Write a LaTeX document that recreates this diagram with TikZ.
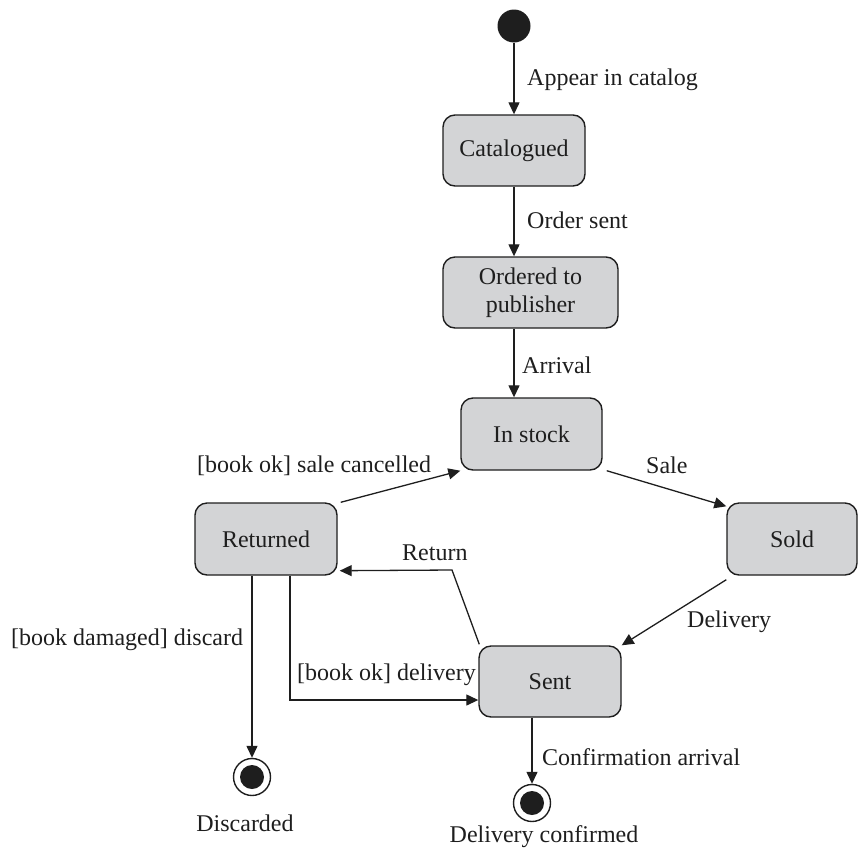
\documentclass[tikz,border=0pt]{standalone}
\usepackage{fontspec}
\setmainfont{Liberation Serif}
\usetikzlibrary{arrows.meta,calc}
\definecolor{boxgray}{RGB}{211,212,214}
\definecolor{ink}{RGB}{30,30,30}
\tikzset{
  state/.style={draw=ink, fill=boxgray, rounded corners=12pt, line width=1.4pt,
    inner sep=0pt, align=center, font=\fontsize{24}{28}\selectfont, text=ink},
  lbl/.style={inner sep=0pt, font=\fontsize{24}{28}\selectfont, text=ink},
  trans/.style={draw=ink, line width=1.3pt, -{Triangle[length=12pt,width=11pt]}},
  finalst/.style={circle, draw=ink, line width=1.4pt, minimum size=37pt, inner sep=0pt},
}
\begin{document}
\begin{tikzpicture}[x=1pt,y=-1pt]
\useasboundingbox (0,0) rectangle (858,849);
% states
\node[circle, fill=ink, minimum size=33pt, inner sep=0pt] (init) at (514,26) {};
\node[state, minimum width=142pt, minimum height=71pt] (cat) at (514,150.5) {Catalogued};
\node[state, minimum width=175pt, minimum height=71pt] (ord) at (530.5,292.5) {Ordered to\\publisher};
\node[state, minimum width=141pt, minimum height=72pt] (stock) at (531.5,434) {In stock};
\node[state, minimum width=130pt, minimum height=72pt] (sold) at (792,539) {Sold};
\node[state, minimum width=142pt, minimum height=72pt] (ret) at (266,539) {Returned};
\node[state, minimum width=142pt, minimum height=71pt] (sent) at (550,681.5) {Sent};
\node[finalst] (disc) at (252,777) {};
\fill[ink] (disc.center) circle (12pt);
\node[finalst] (conf) at (532,803) {};
\fill[ink] (conf.center) circle (12pt);
% transitions
\draw[trans] (init) -- (cat);
\draw[trans] (cat.south) -- (cat.south |- ord.north);
\draw[trans] (cat.south |- ord.south) -- (cat.south |- stock.north);
\draw[trans] ([xshift=4pt]stock.south east) -- ([yshift=-4pt]sold.north west);
\draw[trans] ([yshift=-4pt]sold.south west) -- (sent.north east);
\draw[trans] ([xshift=3pt]ret.north east) -- (stock.south west);
\draw[trans] ([xshift=1pt,yshift=1pt]sent.north west) -- (452,570) -- ([xshift=2pt,yshift=5pt]ret.south east);
\draw[trans] ([xshift=-14pt]ret.south) -- (disc.north);
\draw[trans] ([xshift=24pt]ret.south) |- ([yshift=-18.5pt]sent.west);
\draw[trans] (sent.south -| conf.north) -- (conf.north);
% labels
\node[lbl, anchor=west] (l1) at (527,80) {Appear in catalog};
\node[lbl, anchor=west] (l2) at (527,220) {Order sent};
\node[lbl, anchor=west] (l3) at (522,365) {Arrival};
\node[lbl, anchor=west] (l4) at (197,466) {[book ok] sale cancelled};
\node[lbl, anchor=west] (l5) at (646,465) {Sale};
\node[lbl, anchor=west] (l6) at (402,553) {Return};
\node[lbl, anchor=west] (l7) at (687,622) {Delivery};
\node[lbl, anchor=west] (l8) at (11,640) {[book damaged] discard};
\node[lbl, anchor=west] (l9) at (297,675) {[book ok] delivery};
\node[lbl, anchor=west] (l10) at (542,757) {Confirmation arrival};
\node[lbl] (l11) at (245,823) {Discarded};
\node[lbl] (l12) at (544,837) {Delivery confirmed};
\end{tikzpicture}
\end{document}
